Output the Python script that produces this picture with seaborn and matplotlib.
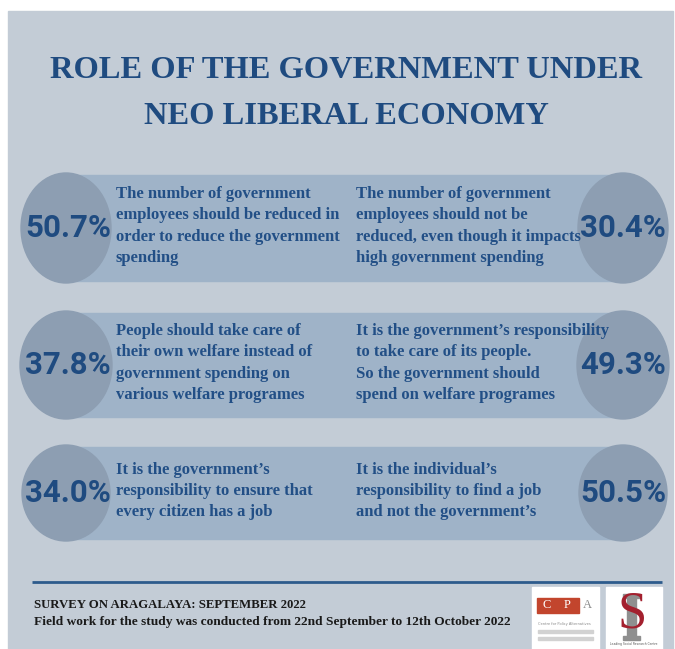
import matplotlib
matplotlib.use("Agg")
import matplotlib.pyplot as plt
import seaborn as sns
from matplotlib.patches import Ellipse, Rectangle

# ---- content -------------------------------------------------------------
title_lines = ["ROLE OF THE GOVERNMENT UNDER", "NEO LIBERAL ECONOMY"]

left_pct = [50.7, 37.8, 34.0]
right_pct = [30.4, 49.3, 50.5]

left_statements = [
    ["The number of government", "employees should be reduced in",
     "order to reduce the government", "spending"],
    ["People should take care of", "their own welfare instead of",
     "government spending on", "various welfare programes"],
    ["It is the government\u2019s", "responsibility to ensure that",
     "every citizen has a job"],
]
right_statements = [
    ["The number of government", "employees should not be",
     "reduced, even though it impacts", "high government spending"],
    ["It is the government\u2019s responsibility", "to take care of its people.",
     "So the government should", "spend on welfare programes"],
    ["It is the individual\u2019s", "responsibility to find a job",
     "and not the government\u2019s"],
]

footer_title = "SURVEY ON ARAGALAYA: SEPTEMBER 2022"
footer_note = "Field work for the study was conducted from 22nd September to 12th October 2022"

# ---- styling ---------------------------------------------------------------
sns.set_theme(style="white")
plt.rcParams["font.family"] = ["DejaVu Sans"]

PAGE = "#c3ccd6"
BAND = "#9fb3c8"
DISC = "#8d9eb2"
NAVY = "#1f4b80"
TEXT = "#224f86"
SERIF = "Liberation Serif"

W, H = 675, 649
fig = plt.figure(figsize=(W / 100, H / 100), dpi=100)
ax = fig.add_axes([0, 0, 1, 1])
ax.set_xlim(0, W)
ax.set_ylim(H, 0)
ax.axis("off")

# page panel
ax.add_patch(Rectangle((8, 11), 665, 640, color=PAGE, zorder=0))

# title
for line, y in zip(title_lines, [70, 117]):
    ax.text(346, y, line, ha="center", va="center", color=NAVY,
            fontsize=23.4, fontweight="bold", family=SERIF)

# rows: band + two discs + labels
row_y = [228, 365, 493]
row_h = [110, 108, 96]
row_w = [90, 92, 88]
x_left, x_right = 66, 623
pitch = 21.5


def statement(x, cy, lines):
    n = len(lines)
    for k, s in enumerate(lines):
        ax.text(x, cy - 2 + (k - (n - 1) / 2) * pitch, s, ha="left", va="center",
                color=TEXT, fontsize=12, fontweight="bold", family=SERIF,
                zorder=3)


for i in range(3):
    cy, h, w = row_y[i], row_h[i], row_w[i]
    ax.add_patch(Rectangle((x_left, cy - h / 2 + 2), x_right - x_left, h - 4,
                           color=BAND, zorder=1))
    for cx in (x_left, x_right):
        ax.add_patch(Ellipse((cx, cy), w, h, color=DISC, zorder=2))

    ax.text(x_left + 2, cy, f"{left_pct[i]:.1f}%", ha="center", va="center",
            color=NAVY, fontsize=22.5, fontweight="bold", family="Roboto", zorder=4)
    ax.text(x_right, cy, f"{right_pct[i]:.1f}%", ha="center", va="center",
            color=NAVY, fontsize=22.5, fontweight="bold", family="Roboto", zorder=4)

    statement(116, cy, left_statements[i])
    statement(356, cy, right_statements[i])

# footer
ax.plot([32, 662], [582, 582], color="#2d5b8c", lw=2, solid_capstyle="butt")
ax.text(34, 605, footer_title, ha="left", va="center", color="#1a1a1a",
        fontsize=9.2, fontweight="bold", family=SERIF)
ax.text(34, 622, footer_note, ha="left", va="center", color="#1a1a1a",
        fontsize=9.6, fontweight="bold", family=SERIF)

# partner marks
ax.add_patch(Rectangle((532, 587), 67, 62, color="white", zorder=1))
ax.add_patch(Rectangle((537, 598), 42, 15, color="#c2452d", zorder=2))
ax.text(547, 605.5, "C", ha="center", va="center", color="white", fontsize=9,
        family=SERIF, zorder=3)
ax.text(567, 605.5, "P", ha="center", va="center", color="white", fontsize=9,
        family=SERIF, zorder=3)
ax.text(587, 605.5, "A", ha="center", va="center", color="#8a8a8a", fontsize=9,
        family=SERIF, zorder=3)
ax.text(538, 624, "Centre for Policy Alternatives", ha="left", va="center",
        color="#8a8a8a", fontsize=2.6, zorder=3)
for yy in (631, 638):
    ax.add_patch(Rectangle((538, yy - 1.5), 55, 3, color="#d2d2d2", zorder=2))

ax.add_patch(Rectangle((606, 587), 56, 62, color="white", zorder=1))
ax.add_patch(Rectangle((627, 596), 9, 42, color="#8f8f8f", zorder=2))
ax.add_patch(Rectangle((623, 594), 17, 4, color="#8f8f8f", zorder=2))
ax.add_patch(Rectangle((623, 636), 17, 4, color="#8f8f8f", zorder=2))
ax.text(632, 614, "S", ha="center", va="center", color="#a3202e", fontsize=38,
        family=SERIF, zorder=3)
ax.text(634, 644, "Leading Social Research Centre", ha="center", va="center",
        color="#555555", fontsize=2.2, zorder=3)

fig.savefig("out.png", dpi=100, facecolor="white")
